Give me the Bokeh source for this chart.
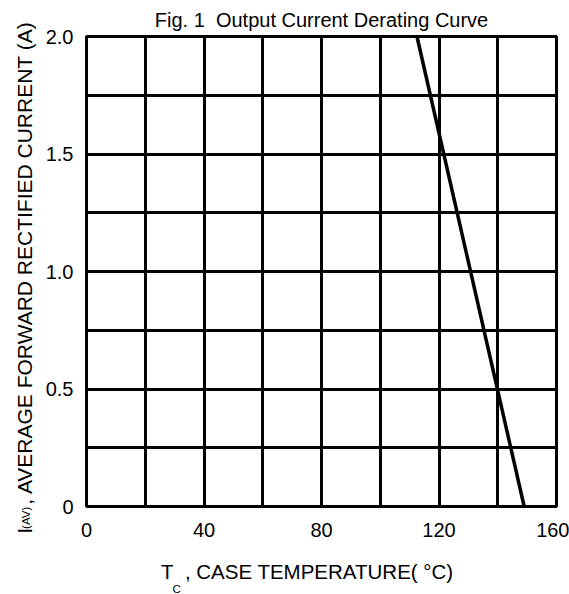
import math
from bokeh.plotting import figure
from bokeh.models import FixedTicker, Label, Range1d
from bokeh.embed import file_html
from bokeh.resources import INLINE

# ---- data ----
curve_temp = [112.5, 149.0]          # Tc (deg C)
curve_current = [2.0, 0.0]            # I(AV) (A)
x_ticks = [0, 40, 80, 120, 160]
y_ticks = [0, 0.5, 1.0, 1.5, 2.0]
y_tick_labels = ["0", "0.5", "1.0", "1.5", "2.0"]
x_grid = [0, 20, 40, 60, 80, 100, 120, 140, 160]
y_grid = [0, 0.25, 0.5, 0.75, 1.0, 1.25, 1.5, 1.75, 2.0]

FONT = "Liberation Sans"
W, H = 569, 594
NB = "\u00a0"

p = figure(width=W, height=H, output_backend="svg", toolbar_location=None,
           x_range=Range1d(0, 160), y_range=Range1d(0, 2.0),
           min_border_left=86, min_border_right=13, min_border_top=35, min_border_bottom=88)
p.background_fill_color = "white"
p.border_fill_color = "white"
p.outline_line_color = "black"
p.outline_line_width = 3

p.title.text = "Fig. 1" + NB + " Output Current Derating Curve"
p.title.text_font = FONT
p.title.text_font_size = "20px"
p.title.text_font_style = "normal"
p.title.text_color = "black"
p.title.align = "center"
p.title.standoff = 12

for ax in (p.xaxis[0], p.yaxis[0]):
    ax.axis_line_color = None
    ax.major_tick_line_color = None
    ax.minor_tick_line_color = None
    ax.major_tick_out = 0
    ax.major_tick_in = 0
    ax.major_label_text_font = FONT
    ax.major_label_text_font_size = "20px"
    ax.major_label_text_color = "black"
    ax.axis_label_text_font = FONT
    ax.axis_label_text_font_style = "normal"
    ax.axis_label_text_color = "black"

p.xaxis[0].ticker = FixedTicker(ticks=x_ticks)
p.xaxis[0].major_label_standoff = 16
p.xaxis[0].axis_label = "T" + NB * 2 + ", CASE TEMPERATURE( °C)" + NB * 5
p.xaxis[0].axis_label_text_font_size = "20.5px"
p.xaxis[0].axis_label_standoff = 20

p.yaxis[0].ticker = FixedTicker(ticks=y_ticks)
p.yaxis[0].major_label_overrides = {t: s for t, s in zip(y_ticks, y_tick_labels)}
p.yaxis[0].major_label_standoff = 13
p.yaxis[0].axis_label = "I" + NB * 4 + ", AVERAGE FORWARD RECTIFIED CURRENT (A)" + NB * 2
p.yaxis[0].axis_label_text_font_size = "21px"
p.yaxis[0].axis_label_standoff = 7

p.xgrid.ticker = FixedTicker(ticks=x_grid)
p.ygrid.ticker = FixedTicker(ticks=y_grid)
for g in (p.xgrid[0], p.ygrid[0]):
    g.grid_line_color = "black"
    g.grid_line_width = 3
    g.grid_line_alpha = 1.0

p.line(curve_temp, curve_current, line_color="black", line_width=3.5)

# ---- small subscript parts of the axis titles (placed in side panels) ----
def lab(text, x, y, size, side, angle=0.0):
    p.add_layout(Label(x=x, y=y, x_units="screen", y_units="screen", text=text,
                       angle=angle, text_font=FONT, text_font_size=size,
                       text_align="left", text_baseline="alphabetic",
                       text_color="black"), side)

lab("C", 171, -82, "11.5px", "left")
lab("(AV)", -530.6, -22.4, "11.5px", "right", math.pi / 2)

open("out.html", "w").write(file_html(p, INLINE))
